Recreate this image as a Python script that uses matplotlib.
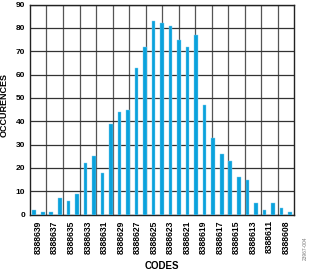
import numpy as np
import matplotlib as mpl
mpl.use('Agg')
import matplotlib.pyplot as plt

plt.rcParams['font.family'] = ['Liberation Sans', 'DejaVu Sans']
plt.rcParams['font.weight'] = 'bold'

# occurrences per output code, 8388639 down to 8388609
counts = [2, 1, 1, 7, 6, 9, 22, 25, 18, 39, 44, 45, 63, 72, 83, 82,
          81, 75, 72, 77, 47, 33, 26, 23, 16, 15, 5, 2, 5, 3, 1]
code_labels = ['8388639', '8388637', '8388635', '8388633', '8388631',
               '8388629', '8388627', '8388625', '8388623', '8388621',
               '8388619', '8388617', '8388615', '8388613', '8388611',
               '8388608']
y_ticks = [0, 10, 20, 30, 40, 50, 60, 70, 80, 90]

fig = plt.figure(figsize=(3.12, 2.70), dpi=100)
ax = fig.add_axes([0.096, 0.205, 0.847, 0.778])

x = np.arange(len(counts))
ax.bar(x, counts, width=0.42, color='#0aa2dc', edgecolor='#7fcdef',
       linewidth=0.3, zorder=3)

lo, hi = -0.5, len(counts) - 0.5
ax.set_xlim(lo, hi)
ax.set_ylim(0, 90)

# 16 equal grid cells across the axis, labels centred in each cell
cell = (hi - lo) / len(code_labels)
edges = lo + cell * np.arange(1, len(code_labels))
centers = lo + cell * (np.arange(len(code_labels)) + 0.5)
ax.set_xticks(edges, minor=True)
ax.set_xticks(centers)
ax.set_xticklabels(code_labels, rotation=90, fontsize=6.2, fontweight='bold')
ax.set_yticks(y_ticks)
ax.set_yticklabels([str(v) for v in y_ticks], fontsize=6, fontweight='bold')
ax.tick_params(which='both', length=0)
ax.tick_params(axis='x', pad=4)
ax.tick_params(axis='y', pad=3.5)

ax.grid(axis='x', which='minor', color='#555555', linewidth=0.9, zorder=0)
ax.grid(axis='y', which='major', color='#333333', linewidth=0.9, zorder=0)
ax.set_axisbelow(True)
for s in ax.spines.values():
    s.set_color('#222222')
    s.set_linewidth(1.0)

ax.set_xlabel('CODES', fontsize=7, fontweight='bold', labelpad=5)
ax.set_ylabel('OCCURENCES', fontsize=6.5, fontweight='bold')
ax.yaxis.set_label_coords(-0.08, 0.522)

fig.text(0.978, 0.08, '23967-004', rotation=90, fontsize=3.5,
         color='#777777', ha='center', va='center', fontweight='normal')

fig.savefig('out.png', dpi=100)
